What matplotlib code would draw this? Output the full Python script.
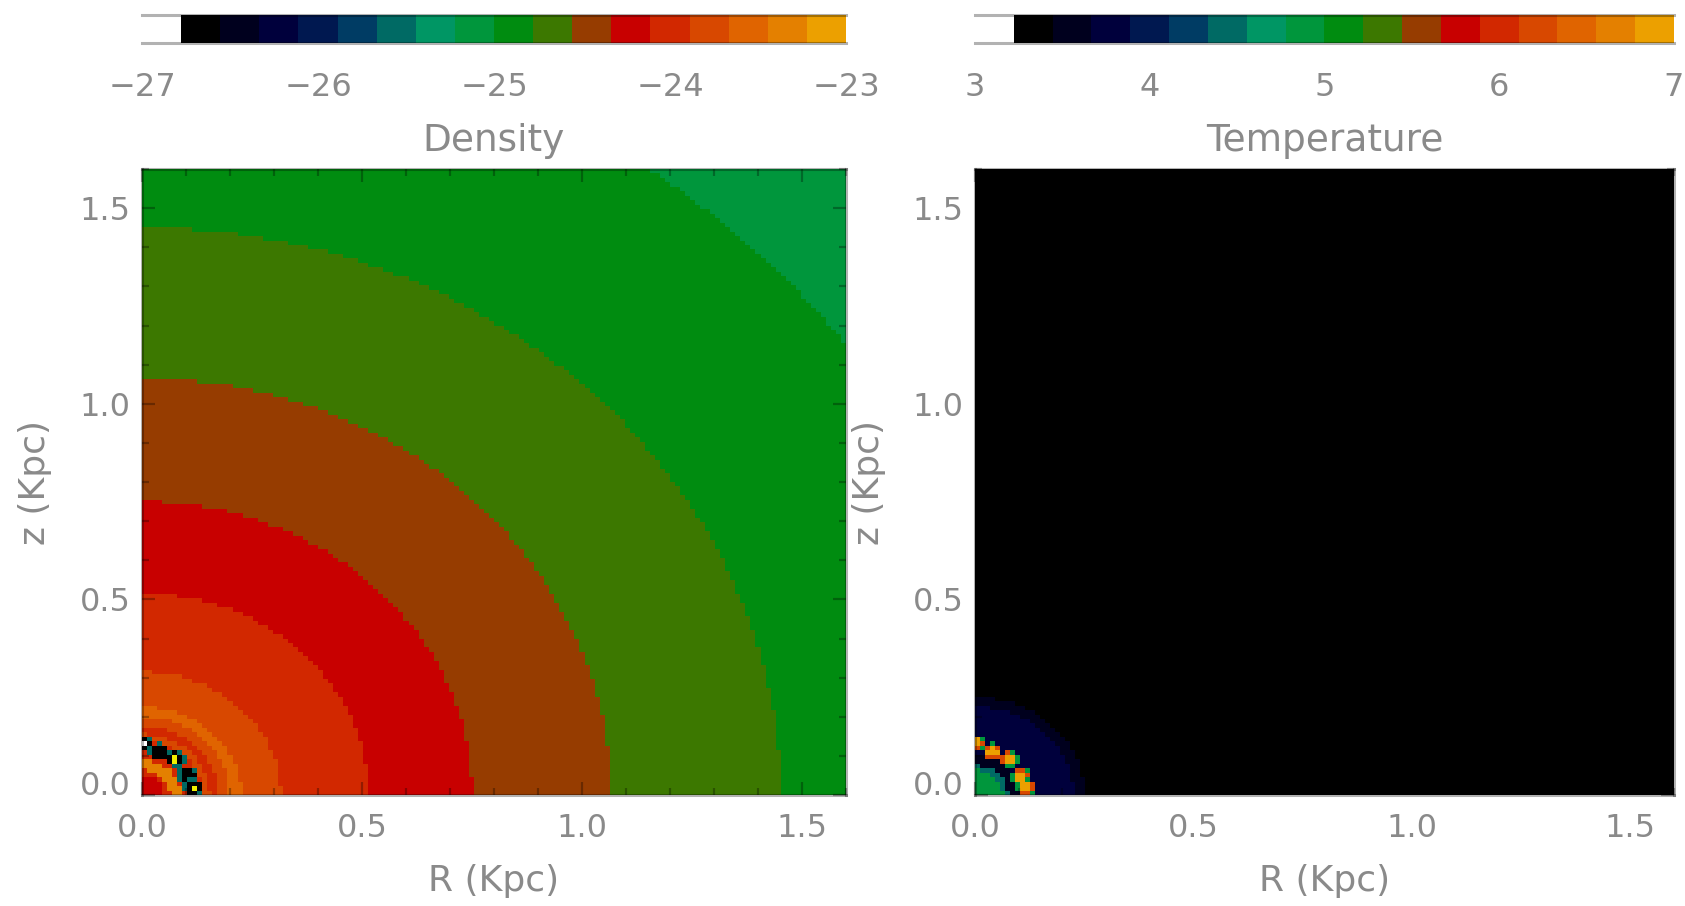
import numpy as np
import matplotlib
matplotlib.use('Agg')
import matplotlib.pyplot as plt
from matplotlib.colors import ListedColormap, BoundaryNorm
from matplotlib.ticker import MultipleLocator, FixedLocator
from matplotlib.transforms import ScaledTranslation

# colour table (first slot is the empty/white level)
band_colors = ['#ffffff',
               '#000000', '#00001e', '#00003c', '#001850', '#003c64',
               '#006a64', '#009664', '#00963c', '#008c10', '#3c7800',
               '#963c00', '#c80000', '#d22800', '#d84800', '#e06400',
               '#e48000', '#eca000']

dens_range = (-27.0, -23.0)
temp_range = (3.0, 7.0)
dens_ticks = [-27, -26, -25, -24, -23]
temp_ticks = [3, 4, 5, 6, 7]
axis_ticks = [0.0, 0.5, 1.0, 1.5]
axis_labels = ['0.0', '0.5', '1.0', '1.5']

# density: log rho inside each shell, outer radius of the shell (Kpc)
dens_shell_r = [0.05, 0.065, 0.09, 0.14, 0.155, 0.175, 0.20, 0.225,
                0.315, 0.515, 0.75, 1.065, 1.45, 1.97, 9.0]
dens_shell_val = [-24.2, -24.0, -23.35, -24.0, -23.8, -24.0, -23.8,
                  -23.55, -23.8, -24.0, -24.2, -24.45, -24.65, -24.9,
                  -25.1]

# temperature: log T inside each shell
temp_shell_r = [0.065, 0.075, 0.10, 0.225, 0.25, 9.0]
temp_shell_val = [4.9, 4.45, 3.56, 3.78, 3.56, 3.33]

# clumps sitting on the ring at r ~ 0.12 Kpc
blob_R = [0.0, 0.040, 0.078, 0.104, 0.117]
blob_z = [0.132, 0.111, 0.092, 0.049, 0.019]
dens_blob_core = [-27.3, -26.7, -22.8, -26.7, -22.8]
dens_blob_layers = [(0.023, -25.6), (0.018, -26.7)]
dens_core_r = 0.008
temp_blob_core = [6.9, 6.9, 6.9, 6.9, 6.9]
temp_blob_layers = [(0.022, 4.9), (0.018, 6.22)]
temp_core_r = 0.013

n_cells = 140
extent = 1.6

text_color = '#8a8a8a'
line_color = (0, 0, 0, 0.3)
plt.rcParams['font.family'] = ['DejaVu Sans']


def build_map(shell_r, shell_val, layers, cores, core_r):
    c = (np.arange(n_cells) + 0.5) * extent / n_cells
    R, Z = np.meshgrid(c, c)
    r = np.hypot(R, Z)
    idx = np.searchsorted(np.asarray(shell_r), r)
    field = np.asarray(shell_val)[idx]
    for bR, bz, core in zip(blob_R, blob_z, cores):
        d = np.hypot(R - bR, Z - bz)
        for rad, val in layers:
            field[d < rad] = val
        field[d < core_r] = core
    return field


def make_cmap(vrange):
    edges = np.linspace(vrange[0], vrange[1], len(band_colors) + 1)
    cmap = ListedColormap(band_colors)
    cmap.set_over('#f0f000')
    cmap.set_under('#ffffff')
    return cmap, BoundaryNorm(edges, cmap.N), edges


def style_spines(ax):
    for s in ax.spines.values():
        s.set_color(line_color)
        s.set_linewidth(2.2)


def draw_panel(fig, rect, cbar_rect, field, vrange, cticks, title):
    cmap, norm, edges = make_cmap(vrange)

    ax = fig.add_axes(rect)
    ax.imshow(field, origin='lower', extent=[0, extent, 0, extent],
              aspect='auto', interpolation='nearest', cmap=cmap, norm=norm)
    ax.set_xlim(0, extent)
    ax.set_ylim(0, extent)
    ax.xaxis.set_major_locator(FixedLocator(axis_ticks))
    ax.yaxis.set_major_locator(FixedLocator(axis_ticks))
    ax.set_xticklabels(axis_labels)
    ax.set_yticklabels(axis_labels)
    ax.xaxis.set_minor_locator(MultipleLocator(0.1))
    ax.yaxis.set_minor_locator(MultipleLocator(0.1))
    ax.tick_params(which='both', direction='in', top=True, right=True,
                   color=line_color, width=1.6, labelcolor=text_color,
                   labelsize=23)
    ax.tick_params(which='major', length=9.5)
    ax.tick_params(which='minor', length=5)
    ax.tick_params(axis='x', pad=13)
    ax.tick_params(axis='y', pad=8)
    style_spines(ax)
    # IDL lifts the bottom y label off the x axis
    lab0 = ax.get_yticklabels()[0]
    lab0.set_transform(lab0.get_transform() +
                       ScaledTranslation(0, 0.12, fig.dpi_scale_trans))
    ax.set_xlabel('R (Kpc)', fontsize=26, color=text_color, va='center')
    ax.set_ylabel('z (Kpc)', fontsize=26, color=text_color, va='center')
    ax.xaxis.set_label_coords(0.5, -0.137)
    ax.yaxis.set_label_coords(-0.152, 0.5)

    cax = fig.add_axes(cbar_rect)
    centers = 0.5 * (edges[:-1] + edges[1:])
    cax.pcolormesh(edges, [0, 1], centers[None, :], cmap=cmap, norm=norm)
    cax.set_xlim(vrange)
    cax.set_ylim(0, 1)
    cax.set_yticks([])
    cax.set_xticks(cticks)
    cax.tick_params(axis='x', length=0, pad=21, labelcolor=text_color,
                    labelsize=23)
    style_spines(cax)
    cax.spines['left'].set_visible(False)
    cax.spines['right'].set_visible(False)
    cax.set_xlabel(title, fontsize=27, color=text_color, va='center')
    cax.xaxis.set_label_coords(0.5, -3.5)
    return ax


def main():
    fig = plt.figure(figsize=(16.85, 9.06), dpi=100)

    dens = build_map(dens_shell_r, dens_shell_val, dens_blob_layers,
                     dens_blob_core, dens_core_r)
    temp = build_map(temp_shell_r, temp_shell_val, temp_blob_layers,
                     temp_blob_core, temp_core_r)

    draw_panel(fig, [0.0843, 0.1225, 0.4178, 0.6909],
               [0.0843, 0.9525, 0.4178, 0.0309],
               dens, dens_range, dens_ticks, 'Density')
    draw_panel(fig, [0.5786, 0.1225, 0.4148, 0.6909],
               [0.5786, 0.9525, 0.4148, 0.0309],
               temp, temp_range, temp_ticks, 'Temperature')

    fig.savefig('out.png', dpi=100)


if __name__ == '__main__':
    main()
